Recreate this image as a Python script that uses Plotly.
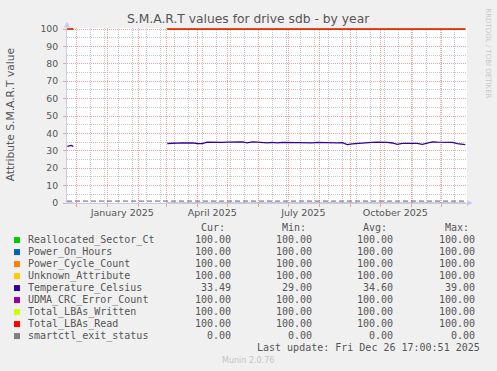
import plotly.graph_objects as go
import pandas as pd

# ---------------- data ----------------
series_names = ["Reallocated_Sector_Ct", "Power_On_Hours", "Power_Cycle_Count",
                "Unknown_Attribute", "Temperature_Celsius", "UDMA_CRC_Error_Count",
                "Total_LBAs_Written", "Total_LBAs_Read", "smartctl_exit_status"]
series_colors = ["#00CC00", "#0066B3", "#FF8000", "#FFCC00", "#330099",
                 "#990099", "#CCFF00", "#FF0000", "#808080"]
cur_vals = ["100.00", "100.00", "100.00", "100.00", "33.49", "100.00", "100.00", "100.00", "0.00"]
min_vals = ["100.00", "100.00", "100.00", "100.00", "29.00", "100.00", "100.00", "100.00", "0.00"]
avg_vals = ["100.00", "100.00", "100.00", "100.00", "34.60", "100.00", "100.00", "100.00", "0.00"]
max_vals = ["100.00", "100.00", "100.00", "100.00", "39.00", "100.00", "100.00", "100.00", "0.00"]
constant_vals = [100, 100, 100, 100, None, 100, 100, 100, 0]

seg1_dates = ["2024-11-22", "2024-11-23", "2024-11-24", "2024-11-25",
              "2024-11-26", "2024-11-27", "2024-11-28"]
seg1_temp = [32.5, 32.6, 32.7, 33.2, 33.1, 32.8, 32.5]

seg2_dates = [d.strftime("%Y-%m-%d") for d in pd.date_range("2025-03-02", periods=60, freq="5D")] + ["2025-12-25"]
seg2_temp = [34.2, 34.4, 34.5, 34.6, 34.5, 34.6, 34.2, 34.1, 35.0, 34.9,
             34.7, 34.8, 35.0, 35.1, 35.0, 35.1, 34.6, 35.1, 35.0, 34.8,
             34.6, 34.9, 34.6, 34.9, 34.8, 34.8, 34.7, 34.7, 34.7, 34.6,
             34.8, 34.7, 34.5, 34.8, 34.6, 34.7, 33.6, 34.0, 34.3, 34.5,
             34.6, 34.8, 35.0, 35.1, 34.9, 34.5, 33.7, 34.3, 34.2, 34.1,
             34.3, 33.7, 34.6, 35.1, 35.0, 34.9, 35.0, 34.9, 34.1, 33.5,
             33.5]
gap_date = "2025-01-15"
status_rule_value = 1.1

x_start = "2024-11-21 17:00:51"
x_end = "2025-12-26 17:00:51"
label_dates = ["2025-01-16", "2025-04-16", "2025-07-16", "2025-10-16"]
label_texts = ["January 2025", "April 2025", "July 2025", "October 2025"]
y_ticks = list(range(0, 101, 10))

title_text = "S.M.A.R.T values for drive sdb - by year"
ytitle_text = "Attribute S.M.A.R.T value"
last_update = "Last update: Fri Dec 26 17:00:51 2025"

# ---------------- geometry ----------------
W, H = 497, 371
L, R, B = 67, 467, 202.7
Y_TOP = 100.6
PPU = 1.74
T = B - Y_TOP * PPU


def px(xp):
    return (xp - L) / (R - L)


def py(yp):
    return (B - yp) / (B - T)


TXT = "#555555"
SANS = "DejaVu Sans"
MONO = "DejaVu Sans Mono"

fig = go.Figure()

all_x = seg1_dates + [gap_date] + seg2_dates
for name, col, cval in zip(series_names, series_colors, constant_vals):
    if cval is None:
        ys = seg1_temp + [None] + seg2_temp
        lw = 1.3
    else:
        ys = [cval] * len(seg1_dates) + [None] + [cval] * len(seg2_dates)
        lw = 1.2 if col == "#FF0000" else 0.8
    fig.add_trace(go.Scatter(x=all_x, y=ys, mode="lines", name=name,
                             line=dict(color=col, width=lw), showlegend=False,
                             hoverinfo="skip"))

# dashed rule near zero
fig.add_trace(go.Scatter(x=[x_start, x_end], y=[status_rule_value, status_rule_value],
                         mode="lines", line=dict(color="#606060", width=1, dash="5px,3px"),
                         showlegend=False, hoverinfo="skip"))
# invisible trace for label axis
fig.add_trace(go.Scatter(x=[x_start, x_end], y=[None, None], xaxis="x2", mode="lines",
                         showlegend=False, hoverinfo="skip"))

MAJ = "#F0A0A0"
MIN = "#C8C8C8"
AX = "#C8C8F0"

fig.update_layout(
    width=W, height=H,
    margin=dict(l=L, r=W - R, t=T, b=H - B, pad=0),
    paper_bgcolor="#F0F0F0", plot_bgcolor="#FFFFFF",
    showlegend=False,
    xaxis=dict(type="date", range=[x_start, x_end], showticklabels=False,
               tick0="2024-12-01", dtick="M1", ticks="outside", ticklen=3,
               tickcolor=MAJ, showgrid=True, gridcolor=MAJ, griddash="1px,1px",
               gridwidth=1, showline=True, linecolor=AX, linewidth=1, zeroline=False,
               minor=dict(tick0="2024-12-01", dtick=14 * 86400000, showgrid=True,
                          gridcolor=MIN, griddash="1px,1px", gridwidth=1, ticks=""),
               layer="below traces"),
    xaxis2=dict(type="date", range=[x_start, x_end], overlaying="x", side="bottom",
                tickmode="array", tickvals=label_dates, ticktext=label_texts,
                showgrid=False, ticks="", showline=False, zeroline=False,
                ticklabelstandoff=2,
                tickfont=dict(family=SANS, size=9.5, color=TXT)),
    yaxis=dict(range=[0, Y_TOP], tickmode="array", tickvals=y_ticks,
               ticks="outside", ticklen=3, tickcolor=MAJ,
               showgrid=True, gridcolor=MAJ, griddash="1px,1px", gridwidth=1,
               showline=True, linecolor=AX, linewidth=1, zeroline=False,
               tickfont=dict(family=SANS, size=9.3, color=TXT), ticklabelstandoff=3,
               minor=dict(dtick=5, showgrid=True, gridcolor=MIN, griddash="1px,1px",
                          gridwidth=1, ticks=""),
               layer="below traces"),
)

ann = []
ann.append(dict(text=title_text, x=px(248), y=py(18.5), xref="paper", yref="paper",
                showarrow=False, xanchor="center", yanchor="middle",
                font=dict(family=SANS, size=12.3, color=TXT)))
ann.append(dict(text=ytitle_text, x=px(10.5), y=py(114.5), xref="paper", yref="paper",
                showarrow=False, xanchor="center", yanchor="middle", textangle=-90,
                font=dict(family=SANS, size=10.7, color=TXT)))
ann.append(dict(text="RRDTOOL / TOBI OETIKER", x=px(488), y=py(53), xref="paper", yref="paper",
                showarrow=False, xanchor="center", yanchor="middle", textangle=90,
                font=dict(family=SANS, size=7, color="#C8C8C8")))

# legend
hdr_y = 227
row0 = 239.3
step = 12
cols = [(cur_vals, "Cur:", 233, 227), (min_vals, "Min:", 314, 308),
        (avg_vals, "Avg:", 395, 389), (max_vals, "Max:", 476.7, 470.5)]
for vals, hdr, rx, hx in cols:
    ann.append(dict(text=hdr, x=px(hx), y=py(hdr_y), xref="paper", yref="paper",
                    showarrow=False, xanchor="right", yanchor="middle",
                    font=dict(family=MONO, size=10, color=TXT)))
    for i, v in enumerate(vals):
        ann.append(dict(text=v, x=px(rx), y=py(row0 + i * step), xref="paper", yref="paper",
                        showarrow=False, xanchor="right", yanchor="middle",
                        font=dict(family=MONO, size=10, color=TXT)))

shapes = []
for i, (name, col) in enumerate(zip(series_names, series_colors)):
    yc = row0 + i * step
    ann.append(dict(text=name, x=px(26), y=py(yc), xref="paper", yref="paper",
                    showarrow=False, xanchor="left", yanchor="middle",
                    font=dict(family=MONO, size=10, color=TXT)))
    shapes.append(dict(type="rect", xref="paper", yref="paper",
                       x0=px(14), x1=px(20), y0=py(yc + 3.5), y1=py(yc - 2.5),
                       fillcolor=col, line=dict(width=0)))

ann.append(dict(text=last_update, x=px(482), y=py(347.7), xref="paper", yref="paper",
                showarrow=False, xanchor="right", yanchor="middle",
                font=dict(family=MONO, size=10, color=TXT)))
ann.append(dict(text="Munin 2.0.76", x=px(248), y=py(360), xref="paper", yref="paper",
                showarrow=False, xanchor="center", yanchor="middle",
                font=dict(family=SANS, size=8, color="#C4C4C4")))

# axis arrows
shapes.append(dict(type="path", xref="paper", yref="paper",
                   path=f"M {px(L-3)} {py(27)} L {px(L+3)} {py(27)} L {px(L)} {py(21.5)} Z",
                   fillcolor=AX, line=dict(width=0)))
shapes.append(dict(type="line", xref="paper", yref="paper",
                   x0=0, x1=0, y0=1, y1=py(25), line=dict(color=AX, width=1)))
shapes.append(dict(type="path", xref="paper", yref="paper",
                   path=f"M {px(467)} {py(B-3)} L {px(467)} {py(B+3)} L {px(472.5)} {py(B)} Z",
                   fillcolor=AX, line=dict(width=0)))

fig.update_layout(annotations=ann, shapes=shapes)
fig.write_html("out.html", config={"displayModeBar": False, "staticPlot": True},
               post_script="document.body.style.margin='0';document.body.style.padding='0';document.body.style.overflow='hidden';")
